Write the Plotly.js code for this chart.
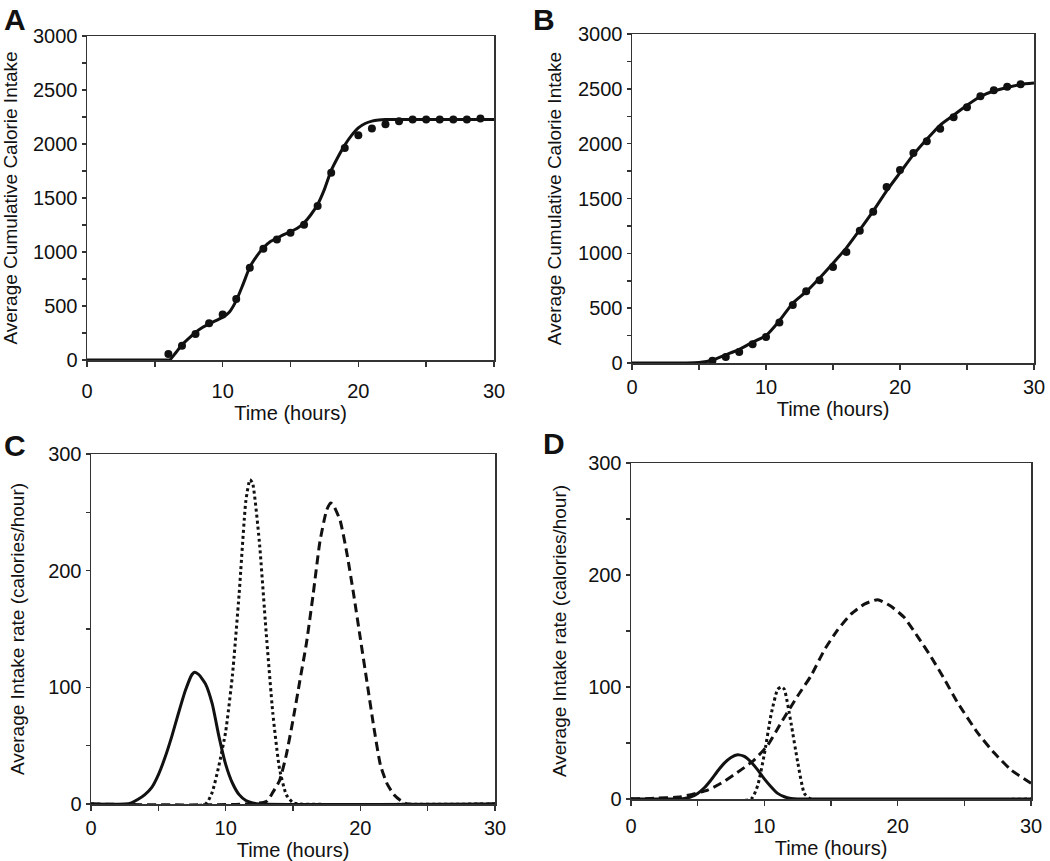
<!DOCTYPE html>
<html>
<head>
<meta charset="utf-8">
<script src="https://cdn.plot.ly/plotly-3.0.1.min.js"></script>
<style>html,body{margin:0;padding:0;background:#fff;}#chart{width:1050px;height:861px;}</style>
</head>
<body>
<div id="chart"></div>
<script>
// ---------- Panel A: observed points and fitted cumulative curve ----------
const aPointHours = [6,7,8,9,10,11,12,13,14,15,16,17,18,19,20,21,22,23,24,25,26,27,28,29];
const aPointIntake = [55,132,240,340,422,564,854,1030,1116,1178,1252,1425,1733,1964,2081,2143,2183,2211,2226,2226,2226,2226,2226,2235];
const aFitHours = [0,6,6.1,6.5,7,7.5,8,8.5,9,9.5,10,10.5,11,11.5,12,12.5,13,13.5,14,14.5,15,15.5,16,16.5,17,17.5,18,18.5,19,19.5,20,20.5,21,21.5,22,30];
const aFitIntake = [0,0,0,60,140,200,255,300,335,365,395,445,550,700,860,960,1040,1095,1127,1160,1188,1220,1270,1345,1440,1580,1755,1880,1990,2080,2150,2190,2212,2222,2226,2226];

// ---------- Panel B ----------
const bPointHours = [6,7,8,9,10,11,12,13,14,15,16,17,18,19,20,21,22,23,24,25,26,27,28,29];
const bPointIntake = [20,55,100,170,238,370,528,655,755,875,1013,1205,1380,1605,1760,1915,2022,2135,2240,2332,2432,2488,2518,2541];
const bFitHours = [0,4,5,6,7,8,9,10,11,12,13,14,15,16,17,18,19,20,21,22,23,24,25,26,27,28,29,30];
const bFitIntake = [0,0,4,25,75,125,190,250,385,545,650,775,910,1050,1215,1385,1570,1735,1900,2040,2170,2260,2350,2430,2480,2512,2540,2553];

// ---------- Panel C: intake rate components ----------
const cSolidHours = [0,2.5,3,3.5,4,4.5,5,5.5,6,6.5,7,7.5,7.7,8,8.5,9,9.5,10,10.5,11,11.5,12,12.5,30];
const cSolidRate  = [0,0,1,4,8,14,25,40,58,78,97,111,113,111,103,86,58,34,18,8,3,1,0,0];
const cDotHours = [0,8.5,9,9.5,10,10.5,11,11.5,11.8,12,12.5,13,13.5,14,14.5,15,15.5,30];
const cDotRate  = [0,0,10,33,62,110,180,260,278,275,225,148,78,30,8,1,0,0];
const cDashHours = [0,13,13.5,14,14.5,15,15.5,16,16.5,17,17.5,17.8,18,18.5,19,19.5,20,20.5,21,21.5,22,22.5,23,23.5,30];
const cDashRate  = [0,2,10,20,42,72,105,138,180,225,252,258,256,243,215,180,142,104,66,33,17,8,3,0,0];

// ---------- Panel D ----------
const dSolidHours = [0,4,4.5,5,5.5,6,6.5,7,7.5,8,8.5,9,9.5,10,10.5,11,11.5,12,12.5,30];
const dSolidRate  = [0,0.5,2,5,10,17,25,32,37,39.4,38,33,26,18,11,5,2,0.5,0,0];
const dDotHours = [0,9,9.5,10,10.5,11,11.3,11.5,12,12.5,13,13.5,30];
const dDotRate  = [0,0,12,40,75,98,100,98,68,33,5,0,0];
const dDashHours = [0,1.5,3.75,5.75,6.75,8.25,9.25,10.25,11.25,12.5,13.5,14.5,15.5,16.5,17.5,18.5,19.5,20.5,21.5,22.5,23.5,24.5,26,27.25,28.5,30];
const dDashRate  = [0,0.5,2,8,14,26,35,48,68,92,110,133,151,165,174,178,172,162,145,127,107,86,59,41,26,14];

// ---------- Axis tick labels ----------
const hourTicks = [0,5,10,15,20,25,30];
const hourLabels = ['0','','10','','20','','30'];
const cumTicks = [0,250,500,750,1000,1250,1500,1750,2000,2250,2500,2750,3000];
const cumLabels = ['0','','500','','1000','','1500','','2000','','2500','','3000'];
const rateTicks = [0,50,100,150,200,250,300];
const rateLabels = ['0','','100','','200','','300'];

const FONT = 'Liberation Sans, Arial, sans-serif';
const INK = '#111';
const FS = 20;

const smooth = (extra) => Object.assign({color: INK, width: 3, shape: 'spline', smoothing: 0.5}, extra || {});
const traces = [
  {x: aFitHours, y: aFitIntake, mode: 'lines', line: smooth({smoothing: 0.6}), xaxis: 'x', yaxis: 'y'},
  {x: aPointHours, y: aPointIntake, mode: 'markers', marker: {color: INK, size: 8}, xaxis: 'x', yaxis: 'y'},
  {x: bFitHours, y: bFitIntake, mode: 'lines', line: smooth({smoothing: 0.6}), xaxis: 'x2', yaxis: 'y2'},
  {x: bPointHours, y: bPointIntake, mode: 'markers', marker: {color: INK, size: 8}, xaxis: 'x2', yaxis: 'y2'},
  {x: cSolidHours, y: cSolidRate, mode: 'lines', line: smooth(), xaxis: 'x3', yaxis: 'y3'},
  {x: cDotHours, y: cDotRate, mode: 'lines', line: smooth({dash: 'dot'}), xaxis: 'x3', yaxis: 'y3'},
  {x: cDashHours, y: cDashRate, mode: 'lines', line: smooth({dash: '9px,5px'}), xaxis: 'x3', yaxis: 'y3'},
  {x: dSolidHours, y: dSolidRate, mode: 'lines', line: smooth(), xaxis: 'x4', yaxis: 'y4'},
  {x: dDotHours, y: dDotRate, mode: 'lines', line: smooth({dash: 'dot'}), xaxis: 'x4', yaxis: 'y4'},
  {x: dDashHours, y: dDashRate, mode: 'lines', line: smooth({dash: '9px,5px'}), xaxis: 'x4', yaxis: 'y4'}
];
traces.forEach(t => { t.showlegend = false; t.hoverinfo = 'skip'; t.cliponaxis = false; });

function xax(domain, anchor, lblStand) {
  return {
    domain: domain, anchor: anchor, range: [0, 30],
    tickmode: 'array', tickvals: hourTicks, ticktext: hourLabels,
    ticks: 'outside', ticklen: 5, tickwidth: 1.5, tickcolor: '#333',
    ticklabelstandoff: lblStand,
    showline: true, mirror: true, linecolor: '#333', linewidth: 1.5,
    showgrid: false, zeroline: false,
    tickfont: {family: FONT, size: FS, color: INK},
    title: {text: 'Time (hours)', font: {family: FONT, size: FS, color: INK}, standoff: 5}
  };
}
function yax(domain, anchor, range, tv, tt, title, stand) {
  return {
    domain: domain, anchor: anchor, range: range,
    tickmode: 'array', tickvals: tv, ticktext: tt,
    ticks: 'outside', ticklen: 4, tickwidth: 1.5, tickcolor: '#333',
    showline: true, mirror: true, linecolor: '#333', linewidth: 1.5,
    showgrid: false, zeroline: false,
    tickfont: {family: FONT, size: FS, color: INK},
    title: {text: title, font: {family: FONT, size: 19, color: INK}, standoff: stand}
  };
}

const W = 1050, H = 861;
const dx = (a, b) => [a / W, b / W];
const dy = (top, bottom) => [1 - bottom / H, 1 - top / H];

const layout = {
  width: W, height: H,
  margin: {l: 0, r: 0, t: 0, b: 0},
  paper_bgcolor: '#fff', plot_bgcolor: '#fff',
  showlegend: false,
  xaxis:  xax(dx(87, 494), 'y', 7),
  yaxis:  yax(dy(36, 360), 'x', [0, 3000], cumTicks, cumLabels, 'Average Cumulative Calorie Intake', 11),
  xaxis2: xax(dx(632, 1034), 'y2', 0),
  yaxis2: yax(dy(34, 363), 'x2', [0, 3000], cumTicks, cumLabels, 'Average Cumulative Calorie Intake', 11),
  xaxis3: xax(dx(91, 495), 'y3', 0),
  yaxis3: yax(dy(454, 804), 'x3', [0, 300], rateTicks, rateLabels, 'Average Intake rate (calories/hour)', 18),
  xaxis4: xax(dx(631, 1031), 'y4', 3),
  yaxis4: yax(dy(463, 799), 'x4', [0, 300], rateTicks, rateLabels, 'Average Intake rate (calories/hour)', 16),
  annotations: [
    {text: '<b>A</b>', x: 2 / W, y: 1 - 1 / H},
    {text: '<b>B</b>', x: 531 / W, y: 1 - 1 / H},
    {text: '<b>C</b>', x: 2 / W, y: 1 - 427 / H},
    {text: '<b>D</b>', x: 541 / W, y: 1 - 425 / H}
  ].map(a => Object.assign(a, {xref: 'paper', yref: 'paper', xanchor: 'left', yanchor: 'top', showarrow: false,
      font: {family: FONT, size: 30, color: INK}}))
};

Plotly.newPlot('chart', traces, layout, {staticPlot: true, displayModeBar: false});
</script>
</body>
</html>
